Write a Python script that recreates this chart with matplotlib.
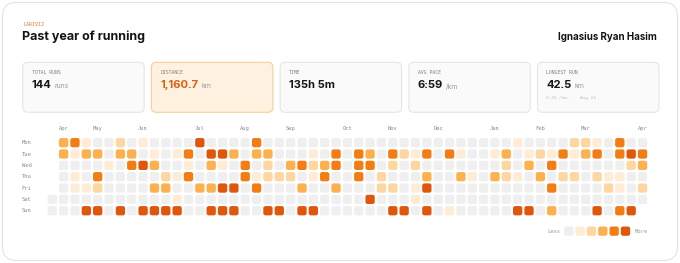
import matplotlib.pyplot as plt
from matplotlib.patches import FancyBboxPatch

# ---- data
months = ["Apr", "May", "Jun", "Jul", "Aug", "Sep", "Oct", "Nov", "Dec", "Jan", "Feb", "Mar", "Apr"]
month_cols = [1, 4, 8, 13, 17, 21, 26, 30, 34, 39, 43, 47, 52]
days = ["Mon", "Tue", "Wed", "Thu", "Fri", "Sat", "Sun"]

# activity level per week column (-1 = no day)
mon = [-1, 3, 4, 1, 0, 0, 2, 0, 1, 0, 0, 0, 0, 5, 0, 0, 0, 0, 4, 0,
       0, 0, 0, 0, 0, 0, 0, 0, 0, 0, 0, 0, 0, 0, 0, 0, 0, 0, 0, 0,
       0, 1, 0, 0, 0, 0, 2, 2, 1, 0, 4, 0, 0]
tue = [-1, 3, 1, 3, 3, 0, 3, 3, 0, 1, 0, 1, 4, 0, 5, 5, 3, 0, 3, 3,
       0, 0, 0, 1, 0, 4, 0, 4, 3, 0, 4, 2, 1, 4, 0, 4, 1, 0, 0, 1,
       3, 0, 1, 2, 1, 4, 1, 3, 4, 0, 4, 5, 4]
wed = [-1, 0, 0, 0, 0, 1, 0, 4, 5, 3, 0, 0, 1, 0, 3, 1, 0, 4, 0, 2,
       0, 3, 4, 2, 3, 4, 0, 4, 4, 0, 2, 0, 2, 0, 0, 0, 0, 0, 0, 0,
       2, 0, 3, 0, 4, 0, 0, 0, 0, 0, 0, 2, 3]
thu = [-1, 0, 1, 0, 4, 0, 0, 0, 0, 0, 2, 1, 4, 0, 0, 0, 0, 4, 1, 2,
       2, 2, 0, 1, 4, 0, 0, 4, 0, 2, 0, 0, 0, 3, 0, 0, 3, 1, 0, 3,
       2, 1, 0, 3, 0, 2, 2, 0, 2, 1, 1, 0, 0]
fri = [-1, 0, 1, 1, 2, 0, 0, 0, 0, 3, 3, 0, 0, 3, 3, 5, 5, 0, 4, 0,
       0, 0, 3, 0, 0, 3, 0, 0, 0, 2, 2, 0, 1, 5, 0, 0, 0, 0, 0, 0,
       0, 0, 0, 0, 4, 0, 0, 0, 0, 2, 1, 0, 2]
sat = [0, 0, 0, 0, 0, 0, 0, 0, 0, 0, 0, 1, 0, 0, 0, 0, 0, 0, 0, 0,
       0, 0, 0, 0, 0, 0, 0, 0, 5, 0, 0, 0, 1, 0, 0, 0, 0, 0, 0, 0,
       0, 0, 0, 0, 0, 0, 0, 0, 0, 0, 0, 0, 0]
sun = [0, 0, 0, 5, 5, 0, 5, 0, 5, 5, 5, 5, 0, 0, 5, 5, 5, 0, 0, 5,
       5, 0, 5, 5, 0, 0, 0, 0, 0, 0, 5, 5, 0, 5, 0, 1, 0, 0, 0, 0,
       0, 5, 5, 0, 3, 0, 0, 0, 5, 0, 4, 5, -1]
grid = [mon, tue, wed, thu, fri, sat, sun]

stat_labels = ["TOTAL RUNS", "DISTANCE", "TIME", "AVG PACE", "LONGEST RUN"]
stat_values = ["144", "1,160.7", "135h 5m", "6:59", "42.5"]
stat_units = ["runs", "km", "", "/km", "km"]
longest_note = "6:49 /km  \u00b7  Aug 24"

level_colors = ["#efefef", "#feecd6", "#fdd6a2", "#fdb04e", "#f37d12", "#e0560a"]

MONO = "DejaVu Sans Mono"
SANS = "Inter"

fig = plt.figure(figsize=(6.8, 2.63), dpi=100)
fig.patch.set_facecolor("white")

# base axes in pixel units
ax = fig.add_axes([0, 0, 1, 1])
ax.set_xlim(0, 680)
ax.set_ylim(263, 0)
ax.axis("off")

ax.add_patch(FancyBboxPatch((2.5, 2.5), 675, 258, boxstyle="round,pad=0,rounding_size=14",
                            fc="white", ec="#e3e3e3", lw=0.8))

ax.text(23, 25, "LARIVIZ", fontsize=3.6, family=MONO, color="#e07b39", va="center")
ax.text(22.5, 40, "Past year of running", fontsize=9, weight="bold", family=SANS,
        color="#141414", va="baseline")
ax.text(656.5, 40, "Ignasius Ryan Hasim", fontsize=7, weight="bold", family=SANS,
        color="#141414", va="baseline", ha="right")

# stat cards
renderer = fig.canvas.get_renderer()
for i in range(5):
    x0 = 22.7 + i * 128.7
    hot = i == 1
    ax.add_patch(FancyBboxPatch((x0, 62.3), 121.5, 50, boxstyle="round,pad=0,rounding_size=5",
                                fc="#fff1df" if hot else "#fafafa",
                                ec="#f8cf95" if hot else "#e6e6e6", lw=0.8))
    ax.text(x0 + 9, 72, stat_labels[i], fontsize=3.4, family=MONO, color="#808080", va="center")
    t = ax.text(x0 + 9, 88.5, stat_values[i], fontsize=8, weight="bold", family=SANS,
                color="#d9600d" if hot else "#161616", va="baseline")
    if stat_units[i]:
        bb = t.get_window_extent(renderer)
        xr = ax.transData.inverted().transform((bb.x1, bb.y0))[0]
        ax.text(xr + 3, 88.5, stat_units[i], fontsize=5, family=SANS, color="#9a9a9a",
                va="baseline")
    if i == 4:
        ax.text(x0 + 9, 98, longest_note, fontsize=3.2, family=MONO, color="#c2c2c2",
                va="center")

# heatmap axes: columns = weeks, rows = weekdays
hx = fig.add_axes([46.6 / 680, 1 - 216.4 / 263, 601.6 / 680, 79.4 / 263])
hx.set_xlim(-0.5, 52.5)
hx.set_ylim(6.5, -0.5)
hx.axis("off")

s = 0.82
for r, row in enumerate(grid):
    for c, lev in enumerate(row):
        if lev < 0:
            continue
        hx.add_patch(FancyBboxPatch((c - s / 2, r - s / 2), s, s,
                                    boxstyle="round,pad=0,rounding_size=0.2",
                                    fc=level_colors[lev], ec="none"))

for m, c in zip(months, month_cols):
    hx.text(c, -1.25, m, ha="center", va="center", fontsize=4, family=MONO,
            color="#8c8c8c", clip_on=False)
for r, d in enumerate(days):
    hx.text(-2.7, r, d, ha="left", va="center", fontsize=4, family=MONO,
            color="#8c8c8c", clip_on=False)

# legend
ly = 7.8
hx.text(44.8, ly, "Less", ha="right", va="center", fontsize=4, family=MONO,
        color="#9c9c9c", clip_on=False)
for i, col in enumerate(level_colors):
    hx.add_patch(FancyBboxPatch((45.5 + i - s / 2, ly - s / 2), s, s,
                                boxstyle="round,pad=0,rounding_size=0.2",
                                fc=col, ec="none", clip_on=False))
hx.text(51.3, ly, "More", ha="left", va="center", fontsize=4, family=MONO,
        color="#9c9c9c", clip_on=False)

fig.savefig("out.png", dpi=100, facecolor="white")
